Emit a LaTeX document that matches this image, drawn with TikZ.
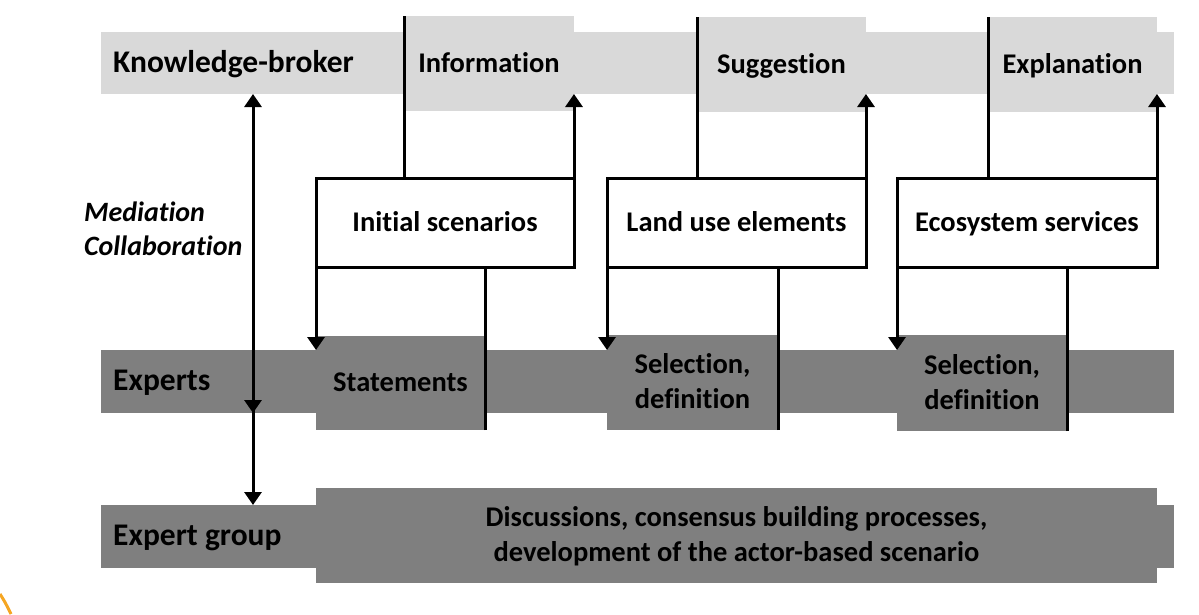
\documentclass[tikz,border=0pt]{standalone}
\usepackage{fontspec}
\setmainfont{Carlito}[Ligatures=NoCommon]
\usetikzlibrary{arrows.meta,calc}
\definecolor{lightband}{HTML}{D9D9D9}
\definecolor{darkband}{HTML}{7F7F7F}
\definecolor{logoorange}{HTML}{F5A623}
\newcommand\topstrut{\rule{0pt}{22.8pt}}
\newcommand\botstrut{\rule[-5.7pt]{0pt}{5.7pt}}
\tikzset{
  base/.style={inner sep=0pt, outer sep=0pt, anchor=north west,
    font=\fontsize{28.5}{35}\selectfont\bfseries, align=center,
    text height=22.8pt, text depth=5.7pt},
  multi/.style={text height=, text depth=},
  lightbox/.style={base, fill=lightband, draw=none},
  darkbox/.style={base, fill=darkband, draw=none},
  whitebox/.style={base, fill=white, draw=black, line width=3pt},
  lbl/.style={font=\fontsize{31.5}{35}\selectfont\bfseries, inner sep=0pt, anchor=west, align=left,
    text height=25.2pt, text depth=6.3pt},
  conn/.style={line width=3pt},
  arr/.style={conn, -{Triangle[width=17pt,length=13pt]}},
}
\begin{document}
\begin{tikzpicture}[x=1pt,y=-1pt]
\useasboundingbox (0,0) rectangle (1199,614);
% bands
\node[lightbox, minimum width=1073pt, minimum height=62pt] (kb) at (101,32) {};
\node[darkbox, minimum width=1073pt, minimum height=63pt] (exp) at (101,350) {};
\node[darkbox, minimum width=1073pt, minimum height=63pt] (eg) at (101,505) {};
% band labels
\node[lbl] (kbl) at (113,63) {Knowledge-broker};
\node[lbl] (expl) at (113,381.5) {Experts};
\node[lbl] (egl) at (113,536.5) {Expert group};
\node[lbl, multi, font=\fontsize{28}{34}\selectfont\bfseries\itshape] (med) at (84,230) {\topstrut Mediation\\Collaboration\botstrut};
% knowledge-broker outputs
\node[lightbox, minimum width=170pt, minimum height=95pt] (info) at (404,16) {Information};
\node[lightbox, minimum width=169pt, minimum height=95pt] (sugg) at (697,17) {Suggestion};
\node[lightbox, minimum width=169pt, minimum height=95pt] (expn) at (988,17) {Explanation};
% middle boxes
\node[whitebox, minimum width=258pt, minimum height=89pt] (ini) at (316,178) {Initial scenarios};
\node[whitebox, minimum width=259pt, minimum height=89pt] (land) at (607,178) {Land use elements};
\node[whitebox, minimum width=260pt, minimum height=89pt] (eco) at (897,178) {Ecosystem services};
% expert boxes
\node[darkbox, minimum width=169pt, minimum height=94pt] (stm) at (316,336) {Statements};
\node[darkbox, multi, minimum width=171pt, minimum height=95pt] (sel1) at (607,335) {\topstrut Selection,\\definition\botstrut};
\node[darkbox, multi, minimum width=170pt, minimum height=96pt] (sel2) at (897,335) {\topstrut Selection,\\definition\botstrut};
% expert group box
\node[darkbox, multi, minimum width=841pt, minimum height=95pt] (disc) at (316,488) {\topstrut Discussions, consensus building processes,\\development of the actor-based scenario\botstrut};
% connectors top
\foreach \o/\b in {info/ini, sugg/land, expn/eco}{
  \draw[conn] (\o.north west) -- (\o.north west |- \b.north);
  \draw[arr] (\b.north east) -- (\b.north east |- kb.south);
}
% connectors bottom
\foreach \b/\e in {ini/stm, land/sel1, eco/sel2}{
  \draw[arr] (\b.south west) -- (\b.south west |- exp.north);
  \draw[conn] (\e.south east) -- (\e.south east |- \b.south);
}
% left mediation arrow
\coordinate (L) at (253,0);
\draw[conn, {Triangle[width=17pt,length=13pt]}-{Triangle[width=17pt,length=13pt]}] (kb.south -| L) -- (eg.north -| L);
\draw[arr] ($(exp.south -| L)+(0,-20)$) -- (exp.south -| L);
% logo fragment
\draw[logoorange, line width=3pt] (0,594) .. controls (5,602) .. (11,614);
\end{tikzpicture}
\end{document}
